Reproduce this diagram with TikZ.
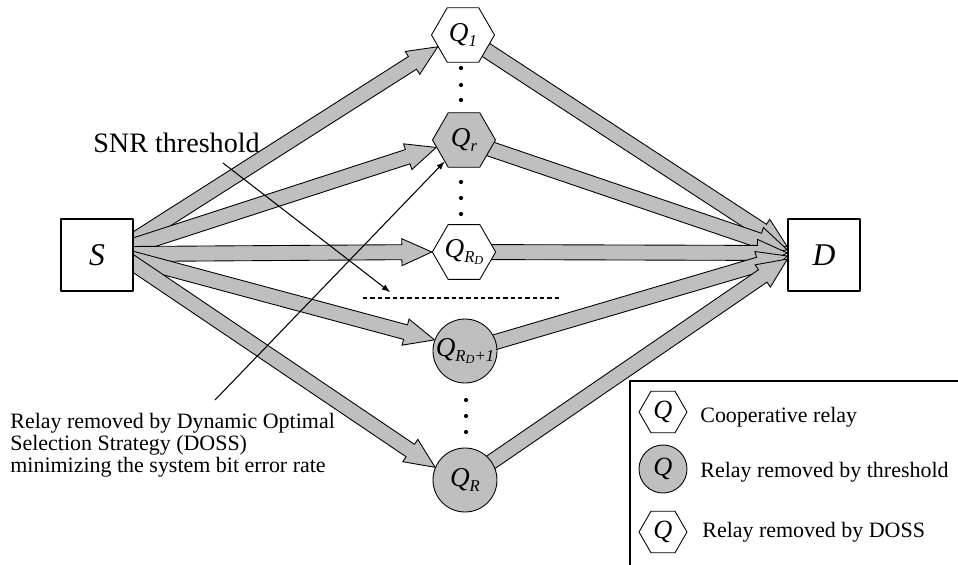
\documentclass[tikz,border=0pt]{standalone}
\usepackage{fontspec}
\setmainfont{Liberation Serif}
\usetikzlibrary{shapes.geometric,calc,backgrounds}

\newcommand\qsub[1]{\textit{Q}\raisebox{-.45ex}{\fontsize{9.5}{9.5}\selectfont\itshape #1}}
\newcommand\rdsub{R\raisebox{-.25ex}{\fontsize{7}{7}\selectfont D}}
\newcommand\fatarrow[2]{%
	\path (#1) coordinate (ftail) (#2) coordinate (ftip);
	\path ($(ftip)!0.6cm!(ftail)$) coordinate (fneck);
	\filldraw[fat] ($(ftail)!0.15cm!90:(ftip)$) -- ($(fneck)!0.15cm!90:(ftip)$)
		-- ($(fneck)!0.27cm!90:(ftip)$) -- (ftip) -- ($(fneck)!0.27cm!-90:(ftip)$)
		-- ($(fneck)!0.15cm!-90:(ftip)$) -- ($(ftail)!0.15cm!-90:(ftip)$) -- cycle;
}

\tikzset{
	fat/.style={fill=black!25, draw=black, line width=0.5pt},
	endbox/.style={draw, fill=white, line width=0.6pt, minimum size=1.44cm, inner sep=0pt,
		font=\fontsize{18}{20}\selectfont\itshape},
	hexa/.style={draw, fill=white, regular polygon, regular polygon sides=6,
		minimum size=1.26cm, inner sep=0pt, line width=0.5pt, font=\fontsize{15.5}{18}\selectfont},
	cut/.style={draw, fill=black!25, circle, minimum size=1.28cm, inner sep=0pt,
		line width=0.5pt, font=\fontsize{15.5}{18}\selectfont},
	lghexa/.style={hexa, minimum size=0.96cm, font=\fontsize{15}{17}\selectfont\itshape},
	lgcut/.style={cut, minimum size=0.96cm, font=\fontsize{15}{17}\selectfont\itshape},
	note/.style={inner sep=0pt, font=\fontsize{12.5}{11}\selectfont},
}

\begin{document}
\begin{tikzpicture}[
	x=0.02cm,
	y=-0.02cm,
	line join=round,
	>=latex,
	]
\useasboundingbox (0,0) rectangle (958,565);
\node[endbox] (S) at (97,255) {S};
\node[endbox] (D) at (824,255) {D};
\node[hexa] (q1) at (463,35) {\qsub{1}};
\node[hexa, fill=black!25] (qr) at (464,140) {\qsub{r}};
\node[hexa] (qrd) at (464,252) {\qsub{\rdsub}};
\node[cut] (qrdi) at (465,351) {\qsub{\rdsub+1}};
\node[cut] (qR) at (465,480) {\qsub{R}};
\begin{scope}[on background layer]
\foreach \n/\a/\dy in {q1/205/-12, qr/195/-8, qrd/180/-1, qrdi/160/3, qR/157/6}
	\fatarrow{$(S.east)+(-4,\dy)$}{\n.\a};
\foreach \n/\dy in {q1/-8, qr/-5, qrd/-2, qrdi/1, qR/4}
	\fatarrow{\n.center}{$(D.west)+(0,\dy)$};
\end{scope}
\foreach \y in {68, 85, 100, 182, 198, 214}
	\fill (461,\y) circle (1.2pt);
\foreach \y in {400, 416, 432}
	\fill (466,\y) circle (1.2pt);
\coordinate (th1) at (363,298);
\coordinate (th2) at (560,298);
\draw[dash pattern=on 2.5pt off 1.7pt, line width=0.6pt] (th1) -- (th2);
\node[note, anchor=base west, font=\fontsize{16}{18}\selectfont] (snr) at (93,152) {SNR threshold};
\coordinate (snrtail) at (223,163);
\coordinate (snrtip) at (390,292);
\draw[->, line width=0.6pt] (snrtail) -- (snrtip);
\node[note, anchor=north west, align=left] (doss) at (10,413)
	{Relay removed by Dynamic Optimal\\Selection Strategy (DOSS)\\minimizing the system bit error rate};
\coordinate (dosstail) at (215,400);
\draw[->, line width=0.6pt] (dosstail) -- (qr.228);
\draw[line width=0.6pt] (958,381) -- (630,381) -- (630,565);
\node[lghexa] (lg1) at (663,412) {Q};
\node[lgcut] (lg2) at (663,469) {Q};
\node[lghexa] (lg3) at (663,532) {Q};
\node[note, anchor=base west] (lt1) at (700,422) {Cooperative relay};
\node[note, anchor=base west] (lt2) at (700,477) {Relay removed by threshold};
\node[note, anchor=base west] (lt3) at (702,537) {Relay removed by DOSS};
\end{tikzpicture}
\end{document}
